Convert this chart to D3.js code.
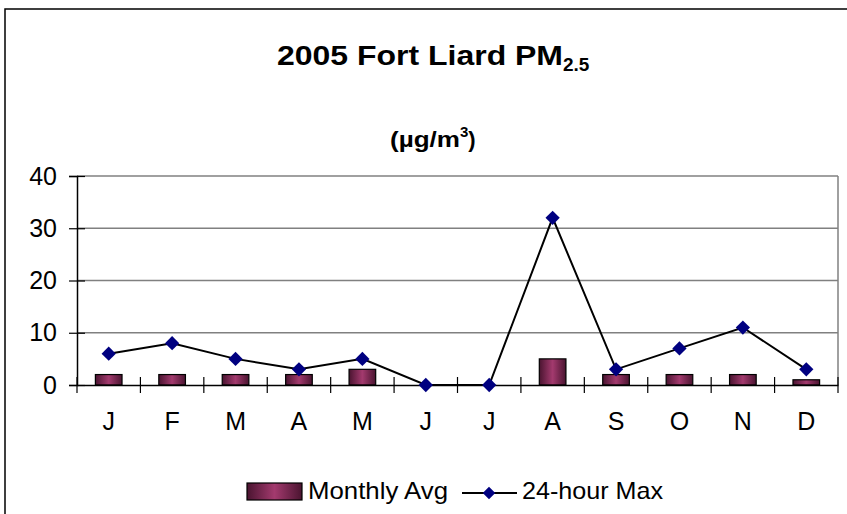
<!DOCTYPE html>
<html>
<head>
<meta charset="utf-8">
<script src="https://cdn.jsdelivr.net/npm/d3@7"></script>
<style>
  body { margin: 0; background: #fff; }
  text { font-family: Arial, "Liberation Sans", sans-serif; }
</style>
</head>
<body>
<svg id="chart" width="847" height="514"></svg>
<script>
const months = ['J', 'F', 'M', 'A', 'M', 'J', 'J', 'A', 'S', 'O', 'N', 'D'];
const monthlyAvg = [2, 2, 2, 2, 3, 0, 0, 5, 2, 2, 2, 1];
const dailyMax = [6, 8, 5, 3, 5, 0, 0, 32, 3, 7, 11, 3];
const yTicks = [0, 10, 20, 30, 40];

const FONT = 'Arial, "Liberation Sans", sans-serif';
const svg = d3.select('#chart');

// Outer chart border (runs off the right/bottom edge)
svg.append('rect')
  .attr('x', 5).attr('y', 9)
  .attr('width', 860).attr('height', 520)
  .attr('fill', 'none').attr('stroke', '#000').attr('stroke-width', 1.5);

// Titles
const title = svg.append('text')
  .attr('x', 277).attr('y', 65)
  .style('font-size', '27px').style('font-weight', 'bold');
title.append('tspan').attr('textLength', 286).attr('lengthAdjust', 'spacingAndGlyphs')
  .text('2005 Fort Liard PM');
title.append('tspan').attr('dy', 6).style('font-size', '19px').text('2.5');

const sub = svg.append('text')
  .attr('x', 390).attr('y', 147)
  .style('font-size', '22px').style('font-weight', 'bold');
sub.append('tspan').attr('textLength', 70).attr('lengthAdjust', 'spacingAndGlyphs').text('(µg/m');
sub.append('tspan').attr('dy', -10).style('font-size', '15px').text('3');
sub.append('tspan').attr('dy', 10).text(')');

const margin = { left: 77, top: 176, right: 838, bottom: 385 };

const x = d3.scaleBand()
  .domain(d3.range(months.length))
  .range([margin.left, margin.right]);

const y = d3.scaleLinear()
  .domain([0, 40])
  .range([margin.bottom, margin.top]);

// Gridlines
svg.append('g')
  .selectAll('line')
  .data(yTicks.filter(d => d > 0))
  .enter().append('line')
  .attr('x1', margin.left).attr('x2', margin.right)
  .attr('y1', d => y(d)).attr('y2', d => y(d))
  .attr('stroke', '#808080').attr('stroke-width', 1.5);

// Right border of plot area
svg.append('line')
  .attr('x1', margin.right).attr('x2', margin.right)
  .attr('y1', margin.top).attr('y2', margin.bottom)
  .attr('stroke', '#808080').attr('stroke-width', 1.5);

// Bar gradient
const defs = svg.append('defs');
const grad = defs.append('linearGradient')
  .attr('id', 'barGrad')
  .attr('x1', '0%').attr('x2', '100%').attr('y1', '0%').attr('y2', '0%');
grad.append('stop').attr('offset', '0%').attr('stop-color', '#4a1430');
grad.append('stop').attr('offset', '50%').attr('stop-color', '#a33a6e');
grad.append('stop').attr('offset', '100%').attr('stop-color', '#4a1430');

// Bars
const barW = x.bandwidth() * 0.42;
svg.append('g')
  .selectAll('rect')
  .data(monthlyAvg)
  .enter().append('rect')
  .attr('x', (d, i) => x(i) + (x.bandwidth() - barW) / 2)
  .attr('y', d => y(d))
  .attr('width', barW)
  .attr('height', d => y(0) - y(d))
  .attr('fill', 'url(#barGrad)')
  .attr('stroke', '#000').attr('stroke-width', 1.2);

// Y axis (ticks cross the axis line)
const yAxis = svg.append('g')
  .attr('transform', `translate(${margin.left},0)`)
  .call(d3.axisLeft(y).tickValues(yTicks).tickSize(8).tickPadding(12));
yAxis.select('.domain').attr('stroke', '#000').attr('stroke-width', 1.5);
yAxis.selectAll('.tick line')
  .attr('x1', 8)
  .attr('stroke', '#000').attr('stroke-width', 1.2);
yAxis.selectAll('text')
  .style('font-size', '25px').attr('fill', '#000')
  .style('font-family', FONT);

// X axis
const xAxis = svg.append('g')
  .attr('transform', `translate(0,${margin.bottom})`)
  .call(d3.axisBottom(x).tickFormat(i => months[i]).tickSize(0).tickPadding(27));
xAxis.select('.domain').attr('stroke', '#000').attr('stroke-width', 1.5);
xAxis.selectAll('text')
  .style('font-size', '25px').attr('fill', '#000')
  .style('font-family', FONT);

// Category separator ticks
svg.append('g')
  .selectAll('line')
  .data(d3.range(months.length + 1))
  .enter().append('line')
  .attr('x1', i => margin.left + i * x.step())
  .attr('x2', i => margin.left + i * x.step())
  .attr('y1', margin.bottom - 8).attr('y2', margin.bottom + 8)
  .attr('stroke', '#000').attr('stroke-width', 1.2);

// Line series
const line = d3.line()
  .x((d, i) => x(i) + x.bandwidth() / 2)
  .y(d => y(d));

svg.append('path')
  .datum(dailyMax)
  .attr('d', line)
  .attr('fill', 'none')
  .attr('stroke', '#000').attr('stroke-width', 2);

const diamond = d3.symbol().type(d3.symbolDiamond2).size(130);
svg.append('g')
  .selectAll('path')
  .data(dailyMax)
  .enter().append('path')
  .attr('d', diamond)
  .attr('transform', (d, i) => `translate(${x(i) + x.bandwidth() / 2},${y(d)})`)
  .attr('fill', '#000080');

// Legend
const legend = svg.append('g');
legend.append('rect')
  .attr('x', 247).attr('y', 483)
  .attr('width', 55).attr('height', 17)
  .attr('fill', 'url(#barGrad)')
  .attr('stroke', '#000').attr('stroke-width', 1.2);
legend.append('text')
  .attr('x', 308).attr('y', 499)
  .attr('textLength', 140).attr('lengthAdjust', 'spacingAndGlyphs')
  .style('font-size', '24px')
  .text('Monthly Avg');
legend.append('line')
  .attr('x1', 462).attr('x2', 517)
  .attr('y1', 493).attr('y2', 493)
  .attr('stroke', '#000').attr('stroke-width', 2);
legend.append('path')
  .attr('d', d3.symbol().type(d3.symbolDiamond2).size(100))
  .attr('transform', 'translate(489,493)')
  .attr('fill', '#000080');
legend.append('text')
  .attr('x', 522).attr('y', 499)
  .attr('textLength', 141).attr('lengthAdjust', 'spacingAndGlyphs')
  .style('font-size', '24px')
  .text('24-hour Max');
</script>
</body>
</html>
